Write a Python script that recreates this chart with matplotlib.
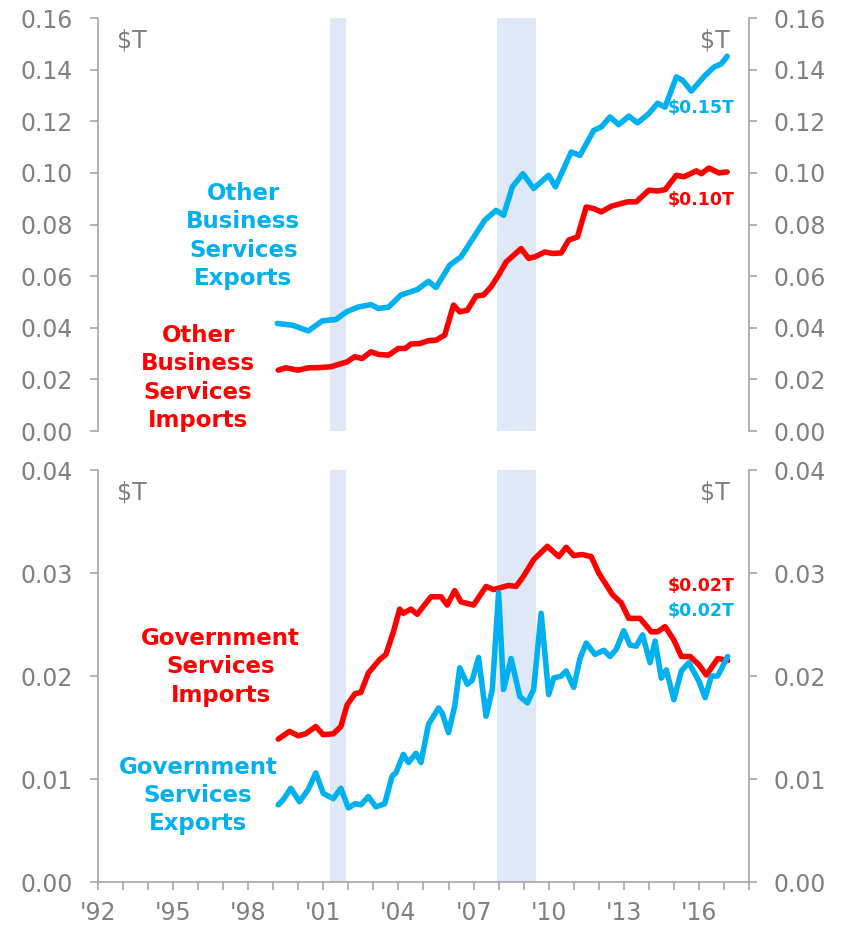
import matplotlib

matplotlib.use("Agg")
import matplotlib.pyplot as plt
from matplotlib.ticker import FixedLocator, FormatStrFormatter, MultipleLocator

BLUE = "#00B0F0"
RED = "#FF0000"
GRAY = "#808080"
SPINE = "#A6A6A6"
SHADE = "#DEE8F6"

# recession periods (fractional years)
recessions = [(2001.25, 2001.92), (2007.95, 2009.5)]

# Other business services exports ($T)
obs_exp_t = [1999.16, 1999.77, 2000.4, 2000.96, 2001.5, 2001.93, 2002.37, 2002.9,
             2003.2, 2003.6, 2004.1, 2004.75, 2005.2, 2005.5, 2006.05, 2006.5,
             2007.0, 2007.45, 2007.9, 2008.2, 2008.55, 2008.97, 2009.4, 2010.0,
             2010.27, 2010.9, 2011.25, 2011.8, 2012.1, 2012.45, 2012.8, 2013.2,
             2013.55, 2014.0, 2014.35, 2014.65, 2015.1, 2015.35, 2015.7, 2016.25,
             2016.6, 2016.9, 2017.13]
obs_exp_v = [0.0417, 0.0410, 0.0388, 0.0427, 0.0432, 0.0462, 0.0480, 0.0490,
             0.0475, 0.0480, 0.0527, 0.0548, 0.0580, 0.0556, 0.0643, 0.0675,
             0.0750, 0.0817, 0.0855, 0.0836, 0.0946, 0.0997, 0.0940, 0.0991,
             0.0946, 0.1081, 0.1068, 0.1165, 0.1178, 0.1217, 0.1187, 0.1220,
             0.1194, 0.1230, 0.1270, 0.1255, 0.1372, 0.1359, 0.1317, 0.1378,
             0.1410, 0.1423, 0.1452]

# Other business services imports ($T)
obs_imp_t = [1999.2, 1999.5, 2000.0, 2000.4, 2000.85, 2001.3, 2001.6, 2001.95,
             2002.25, 2002.55, 2002.9, 2003.2, 2003.6, 2004.0, 2004.27, 2004.5,
             2004.85, 2005.2, 2005.5, 2005.85, 2006.2, 2006.45, 2006.75, 2007.1,
             2007.4, 2007.7, 2008.0, 2008.3, 2008.9, 2009.2, 2009.45, 2009.85,
             2010.15, 2010.5, 2010.8, 2011.15, 2011.5, 2011.8, 2012.1, 2012.5,
             2012.8, 2013.15, 2013.5, 2014.0, 2014.35, 2014.65, 2015.1, 2015.4,
             2015.9, 2016.1, 2016.4, 2016.8, 2017.13]
obs_imp_v = [0.0236, 0.0245, 0.0236, 0.0245, 0.0246, 0.0249, 0.0258, 0.0268,
             0.0288, 0.0281, 0.0307, 0.0297, 0.0294, 0.0320, 0.0320, 0.0337,
             0.0339, 0.0350, 0.0352, 0.0372, 0.0488, 0.0462, 0.0468, 0.0523,
             0.0527, 0.0559, 0.0604, 0.0655, 0.0707, 0.0669, 0.0675, 0.0694,
             0.0688, 0.0690, 0.0740, 0.0752, 0.0868, 0.0862, 0.0849, 0.0871,
             0.0879, 0.0888, 0.0888, 0.0933, 0.0930, 0.0935, 0.0991, 0.0985,
             0.1008, 0.0997, 0.1019, 0.1000, 0.1004]

# Government services imports ($T)
gov_imp_t = [1999.2, 1999.65, 2000.0, 2000.3, 2000.7, 2001.0, 2001.4, 2001.7,
             2001.95, 2002.27, 2002.5, 2002.8, 2003.25, 2003.5, 2003.8, 2004.05,
             2004.2, 2004.5, 2004.75, 2005.3, 2005.7, 2005.95, 2006.25, 2006.5,
             2007.0, 2007.5, 2007.8, 2008.4, 2008.7, 2009.0, 2009.4, 2009.95,
             2010.4, 2010.7, 2011.0, 2011.35, 2011.7, 2012.0, 2012.55, 2012.9,
             2013.2, 2013.65, 2014.1, 2014.35, 2014.65, 2015.0, 2015.3, 2015.65,
             2016.0, 2016.3, 2016.75, 2016.97, 2017.15]
gov_imp_v = [0.01388, 0.01463, 0.0142, 0.0144, 0.0151, 0.0143, 0.0144, 0.0151,
             0.0172, 0.0183, 0.0184, 0.0203, 0.0216, 0.0221, 0.0243, 0.0265,
             0.0261, 0.0265, 0.0260, 0.0277, 0.0277, 0.0269, 0.0283, 0.0272,
             0.0269, 0.0287, 0.0284, 0.0288, 0.0287, 0.0297, 0.0313, 0.0326,
             0.0316, 0.0325, 0.0317, 0.0318, 0.0316, 0.0300, 0.0279, 0.0271,
             0.0256, 0.0256, 0.0243, 0.0243, 0.0248, 0.0235, 0.0219, 0.0219,
             0.0211, 0.0201, 0.0217, 0.0216, 0.0215]

# Government services exports ($T)
gov_exp_t = [1999.2, 1999.4, 1999.7, 2000.05, 2000.4, 2000.7, 2001.0, 2001.4,
             2001.7, 2002.0, 2002.27, 2002.5, 2002.8, 2003.1, 2003.45, 2003.75,
             2003.9, 2004.2, 2004.4, 2004.7, 2004.9, 2005.2, 2005.35, 2005.6,
             2005.75, 2006.0, 2006.25, 2006.45, 2006.75, 2006.95, 2007.2, 2007.5,
             2007.75, 2008.0, 2008.2, 2008.5, 2008.85, 2009.15, 2009.4, 2009.7,
             2010.0, 2010.2, 2010.5, 2010.7, 2011.0, 2011.25, 2011.5, 2011.85,
             2012.2, 2012.45, 2012.7, 2013.0, 2013.25, 2013.5, 2013.75, 2014.05,
             2014.25, 2014.5, 2014.7, 2015.0, 2015.3, 2015.6, 2016.0, 2016.25,
             2016.5, 2016.75, 2017.15]
gov_exp_v = [0.0075, 0.0080, 0.0091, 0.0078, 0.0090, 0.0106, 0.0086, 0.0081,
             0.0091, 0.0072, 0.0076, 0.0075, 0.0083, 0.0073, 0.0076, 0.0103,
             0.0106, 0.0124, 0.0116, 0.0125, 0.0116, 0.0153, 0.0159, 0.0169,
             0.0164, 0.0145, 0.0171, 0.0208, 0.0192, 0.0196, 0.0218, 0.0161,
             0.0187, 0.0281, 0.0187, 0.0217, 0.0180, 0.0174, 0.0187, 0.0261,
             0.0182, 0.0198, 0.0200, 0.0205, 0.0189, 0.0217, 0.0232, 0.0221,
             0.0225, 0.0219, 0.0226, 0.0244, 0.0230, 0.0229, 0.0240, 0.0213,
             0.0234, 0.0198, 0.0206, 0.0177, 0.0205, 0.0213, 0.0195, 0.0179,
             0.0200, 0.0200, 0.0219]

year_ticks = [1992, 1995, 1998, 2001, 2004, 2007, 2010, 2013, 2016]
year_labels = ["'92", "'95", "'98", "'01", "'04", "'07", "'10", "'13", "'16"]

TICK_FS = 17
NOTE_FS = 16.5
END_FS = 12.5


def style_axis(ax, ymax, ystep, show_x):
    ax.set_xlim(1992, 2018)
    ax.set_ylim(0, ymax)
    ax.yaxis.set_major_locator(MultipleLocator(ystep))
    ax.yaxis.set_major_formatter(FormatStrFormatter("%.2f"))
    ax.spines["top"].set_visible(False)
    for side in ["left", "right", "bottom"]:
        ax.spines[side].set_color(SPINE)
        ax.spines[side].set_linewidth(1.2)
    ax.tick_params(axis="y", which="both", left=True, right=True,
                   labelleft=True, labelright=True, direction="out",
                   length=6, width=1.2, color=SPINE, labelcolor=GRAY,
                   labelsize=TICK_FS, pad=12)
    if show_x:
        ax.xaxis.set_major_locator(FixedLocator(year_ticks))
        ax.set_xticklabels(year_labels)
        ax.xaxis.set_minor_locator(MultipleLocator(1))
        ax.tick_params(axis="x", which="both", direction="out", length=6,
                       width=1.2, color=SPINE, labelcolor=GRAY,
                       labelsize=TICK_FS, pad=8)
    else:
        ax.spines["bottom"].set_visible(False)
        ax.set_xticks([])
    for start, end in recessions:
        ax.axvspan(start, end, color=SHADE, lw=0, zorder=0)
    ax.text(0.03, 0.975, "$T", transform=ax.transAxes, color=GRAY,
            fontsize=TICK_FS, ha="left", va="top")
    ax.text(0.97, 0.975, "$T", transform=ax.transAxes, color=GRAY,
            fontsize=TICK_FS, ha="right", va="top")


fig = plt.figure(figsize=(8.46, 9.27), dpi=100)
ax_top = fig.add_axes([0.1158, 0.535, 0.7695, 0.4455])
ax_bot = fig.add_axes([0.1158, 0.0485, 0.7695, 0.4444])

style_axis(ax_top, 0.16, 0.02, show_x=False)
style_axis(ax_bot, 0.04, 0.01, show_x=True)

lw = 4
ax_top.plot(obs_exp_t, obs_exp_v, color=BLUE, lw=lw, solid_capstyle="round")
ax_top.plot(obs_imp_t, obs_imp_v, color=RED, lw=lw, solid_capstyle="round")
ax_bot.plot(gov_imp_t, gov_imp_v, color=RED, lw=lw, solid_capstyle="round")
ax_bot.plot(gov_exp_t, gov_exp_v, color=BLUE, lw=lw, solid_capstyle="round")

note = dict(fontsize=NOTE_FS, fontweight="bold", ha="center", va="center",
            linespacing=1.3)
ax_top.text(1997.8, 0.0755, "Other\nBusiness\nServices\nExports",
            color=BLUE, **note)
ax_top.text(1996.0, 0.0205, "Other\nBusiness\nServices\nImports",
            color=RED, **note)
ax_bot.text(1996.9, 0.0209, "Government\nServices\nImports", color=RED, **note)
ax_bot.text(1996.0, 0.0084, "Government\nServices\nExports", color=BLUE, **note)

end = dict(fontsize=END_FS, fontweight="bold", ha="center", va="center")
ax_top.text(2016.1, 0.1253, "$0.15T", color=BLUE, **end)
ax_top.text(2016.1, 0.0896, "$0.10T", color=RED, **end)
ax_bot.text(2016.1, 0.0287, "$0.02T", color=RED, **end)
ax_bot.text(2016.1, 0.0263, "$0.02T", color=BLUE, **end)

fig.savefig("out.png", dpi=100)
